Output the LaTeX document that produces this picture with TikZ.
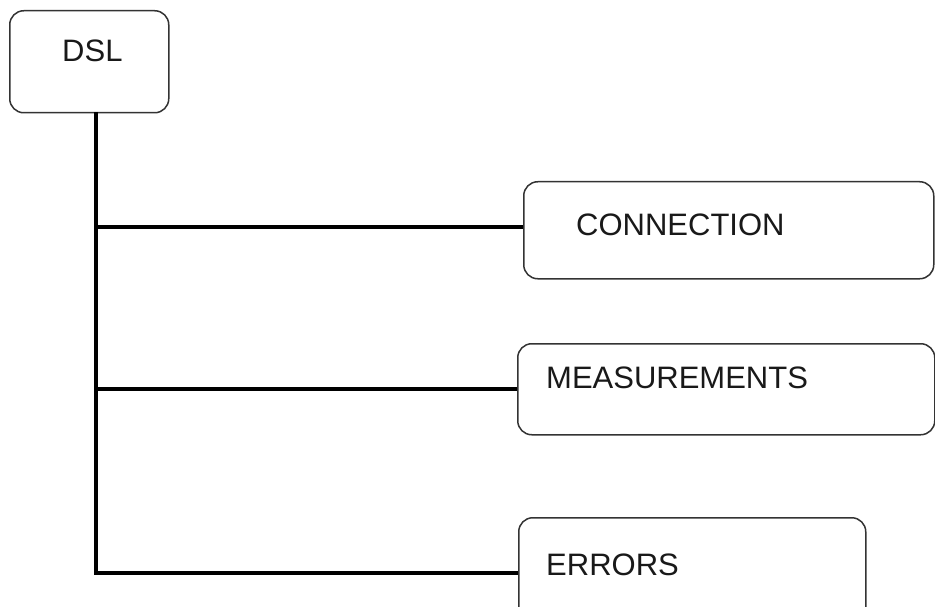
\documentclass[tikz,border=0pt]{standalone}
\usepackage{fontspec}
\setmainfont{Liberation Sans}
\begin{document}
\begin{tikzpicture}[x=1pt,y=-1pt,
    box/.style={draw=black!80, line width=1.5pt, rounded corners=14pt,
      rectangle, inner sep=0pt, anchor=north west, fill=white},
    lbl/.style={anchor=base west, inner sep=0pt, text=black!90,
      font=\fontsize{31}{36}\selectfont},
    trunkline/.style={line width=4pt, black}]
  \clip (0,0) rectangle (935,607);
  \fill[white] (0,0) rectangle (935,607);

  % boxes
  \node[box, minimum width=159pt, minimum height=102pt] (dsl)  at (9,10)   {};
  \node[box, minimum width=410pt, minimum height=97pt]  (conn) at (523,181) {};
  \node[box, minimum width=417pt, minimum height=91pt]  (meas) at (517,343) {};
  \node[box, minimum width=347pt, minimum height=110pt] (err)  at (518,517) {};

  % labels
  \node[lbl] (tdsl)  at (62,62)   {DSL};
  \node[lbl] (tconn) at (576,236) {CONNECTION};
  \node[lbl] (tmeas) at (546,388) {MEASUREMENTS};
  \node[lbl] (terr)  at (546,575) {ERRORS};

  % tree connectors
  \coordinate (trunk) at (96,112);
  \coordinate (kc) at (96,227);
  \draw[trunkline] (trunk) |- (err.west);
  \draw[trunkline] (kc) -- (kc -| conn.west);
  \draw[trunkline] (trunk |- meas.west) -- (meas.west);
\end{tikzpicture}
\end{document}
